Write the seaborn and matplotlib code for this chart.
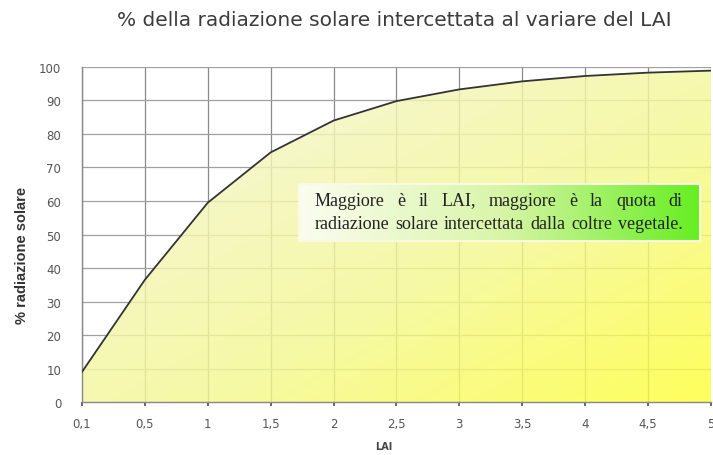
import numpy as np
import matplotlib
matplotlib.use("Agg")
import matplotlib.pyplot as plt
import seaborn as sns
from matplotlib.colors import LinearSegmentedColormap

# dati
lai_labels = ["0,1", "0,5", "1", "1,5", "2", "2,5", "3", "3,5", "4", "4,5", "5"]
radiazione = [9.0, 36.5, 59.5, 74.5, 84.0, 89.8, 93.3, 95.7, 97.3, 98.3, 98.9]
y_ticks = list(range(0, 101, 10))
nota = ["Maggiore è il LAI, maggiore è la quota di",
        "radiazione solare intercettata dalla coltre vegetale."]

sns.set_theme(style="white")
plt.rcParams['font.family'] = ['DejaVu Sans']

fig = plt.figure(figsize=(7.13, 4.56), dpi=100)
ax = fig.add_axes([0.115, 0.116, 0.882, 0.735])

pos = np.arange(len(lai_labels))

# griglia (sotto il riempimento)
for p in pos:
    ax.axvline(p, color="#8a8a8a", lw=0.9, zorder=0.5)
for yt in y_ticks:
    ax.axhline(yt, color="#a0a0a0", lw=0.9, zorder=0.5)

# riempimento a gradiente (bianco in alto a sinistra -> giallo in basso a destra)
nx, ny = 300, 300
u = np.linspace(0, 1, nx)[None, :]
v = np.linspace(0, 1, ny)[:, None]  # 0 = in alto
t = np.clip(0.5 * u + 0.5 * v, 0, 1)
cmap = LinearSegmentedColormap.from_list(
    "gy", [(0, "#ffffff"), (0.3, "#f3f6b8"), (0.6, "#f4f890"), (1.0, "#ffff38")])
img = ax.imshow(t, cmap=cmap, extent=[pos[0], pos[-1], 0, 100], aspect="auto",
                origin="upper", zorder=1, vmin=0, vmax=1, alpha=0.82)
area = ax.fill_between(pos, radiazione, 0, facecolor="none", edgecolor="none")
img.set_clip_path(area.get_paths()[0], transform=ax.transData)

sns.lineplot(x=pos, y=radiazione, ax=ax, color="#333333", lw=1.3, zorder=4)

ax.set_xlim(pos[0], pos[-1])
ax.set_ylim(0, 100)
ax.set_xticks(pos)
ax.set_xticklabels(lai_labels)
ax.set_yticks(y_ticks)
ax.tick_params(axis="both", labelsize=8.5, colors="#555555", length=3)
ax.tick_params(axis="x", bottom=True, direction="out", pad=8)
ax.tick_params(axis="y", left=False, pad=12)
for s in ["top", "right"]:
    ax.spines[s].set_visible(False)
for s in ["left", "bottom"]:
    ax.spines[s].set_color("#888888")
    ax.spines[s].set_linewidth(1.0)

ax.set_xlabel("LAI", fontsize=7, fontweight="bold", color="#444444")
ax.xaxis.set_label_coords(0.48, -0.115)
ax.set_ylabel("% radiazione solare", fontsize=10.5, fontweight="bold", color="#333333",
              family="Liberation Sans")
ax.yaxis.set_label_coords(-0.085, 0.44)

fig.text(0.553, 0.955, "% della radiazione solare intercettata al variare del LAI",
         ha="center", va="center", fontsize=14.5, color="#3c3c3c")

# riquadro di testo con gradiente verde
bx0, bx1 = 3.45, 9.83
by0, by1 = 48, 65
g = np.linspace(0, 1, 200)[None, :]
gcmap = LinearSegmentedColormap.from_list("gw", ["#fbfdf0", "#d9f5a8", "#66ee22"])
ax.imshow(g, cmap=gcmap, extent=[bx0, bx1, by0, by1], aspect="auto", zorder=5)
ax.plot([bx0, bx1, bx1, bx0, bx0], [by0, by0, by1, by1, by0], color="#fafae0", lw=1.5, zorder=6)

# testo giustificato: parole distribuite tra i margini
fig.canvas.draw()
renderer = fig.canvas.get_renderer()
tx0, tx1 = bx0 + 0.25, bx1 - 0.28
for riga, ty in zip(nota, [60.3, 53.3]):
    parole = riga.split(" ")
    testi = [ax.text(0, ty, w, fontsize=13, family="Liberation Serif", color="#222222",
                     va="center", zorder=7) for w in parole]
    inv = ax.transData.inverted()
    larg = []
    for tt in testi:
        bb = tt.get_window_extent(renderer)
        p0 = inv.transform((bb.x0, bb.y0))
        p1 = inv.transform((bb.x1, bb.y0))
        larg.append(p1[0] - p0[0])
    spazio = (tx1 - tx0 - sum(larg)) / (len(parole) - 1)
    x = tx0
    for tt, w in zip(testi, larg):
        tt.set_x(x)
        x += w + spazio

fig.savefig("out.png", dpi=100)
